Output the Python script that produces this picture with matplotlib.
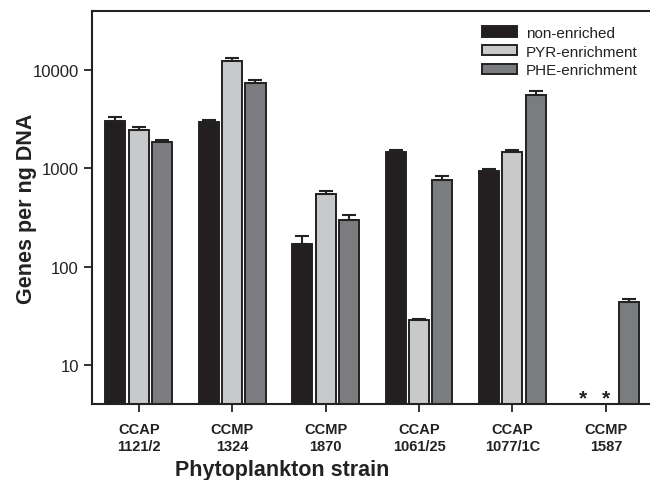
import numpy as np
import matplotlib
matplotlib.use('Agg')
import matplotlib.pyplot as plt

plt.rcParams['font.family'] = ['Liberation Sans', 'DejaVu Sans']

# strains on the x axis
strains = ['CCAP\n1121/2', 'CCMP\n1324', 'CCMP\n1870', 'CCAP\n1061/25', 'CCAP\n1077/1C', 'CCMP\n1587']

# genes per ng DNA (nan = not detected, marked with *)
non_enriched = [3050, 2980, 169, 1456, 931, np.nan]
pyr_enriched = [2450, 12250, 548, 28.6, 1456, np.nan]
phe_enriched = [1840, 7380, 298, 766, 5610, 44]

# upper error (SE)
non_err = [300, 140, 34, 90, 46, np.nan]
pyr_err = [200, 1000, 44, 1.0, 90, np.nan]
phe_err = [90, 580, 39, 75, 500, 2.5]

colors = ['#231f20', '#c8c9cb', '#7b7c80']
labels = ['non-enriched', 'PYR-enrichment', 'PHE-enrichment']

fig = plt.figure(figsize=(6.5, 4.81), dpi=100)
ax = fig.add_axes([0.1415, 0.158, 0.8625, 0.8173])

x = np.arange(len(strains))
width = 0.215
offsets = [-0.25, 0, 0.25]

series = [non_enriched, pyr_enriched, phe_enriched]
errs = [non_err, pyr_err, phe_err]
for vals, err, off, col, lab in zip(series, errs, offsets, colors, labels):
    vals = np.array(vals, dtype=float)
    err = np.array(err, dtype=float)
    ax.bar(x + off, vals, width, color=col, edgecolor='#222222', linewidth=1.4,
           label=lab, zorder=2)
    ax.errorbar(x + off, vals, yerr=[np.zeros_like(err), err], fmt='none',
                ecolor='#222222', elinewidth=1.5, capsize=5, capthick=1.5, zorder=3)

# not detected markers
for i, vals in enumerate(series):
    for j, v in enumerate(vals):
        if np.isnan(v):
            ax.text(x[j] + offsets[i], 3.7, '*', ha='center', va='bottom',
                    fontsize=15, fontweight='bold', color='#222222')

ax.set_yscale('log')
ax.set_ylim(4, 40000)
ax.set_xlim(-0.5, 5.5)
ax.set_yticks([10, 100, 1000, 10000])
ax.set_yticklabels(['10', '100', '1000', '10000'], fontsize=12, color='#222222')
ax.yaxis.set_minor_locator(matplotlib.ticker.NullLocator())
ax.set_xticks(x)
ax.set_xticklabels(strains, fontsize=10.5, fontweight='bold', color='#222222', linespacing=1.25)
ax.tick_params(axis='both', direction='out', length=6, width=1.3, color='#222222')
ax.tick_params(axis='x', pad=7)

for s in ax.spines.values():
    s.set_linewidth(1.5)
    s.set_color('#222222')

ax.set_ylabel('Genes per ng DNA', fontsize=15.5, fontweight='bold', color='#222222')
ax.yaxis.set_label_coords(-0.098, 0.5)
ax.set_xlabel('Phytoplankton strain', fontsize=15.5, fontweight='bold', color='#222222')
ax.xaxis.set_label_coords(0.34, -0.141)

leg = ax.legend(loc='upper right', bbox_to_anchor=(0.99, 0.985), frameon=False,
                fontsize=11, handlelength=2.3, handleheight=0.65, handletextpad=0.6,
                labelspacing=0.3, borderaxespad=0.2)
for t in leg.get_texts():
    t.set_color('#222222')

fig.savefig('out.png', dpi=100)
